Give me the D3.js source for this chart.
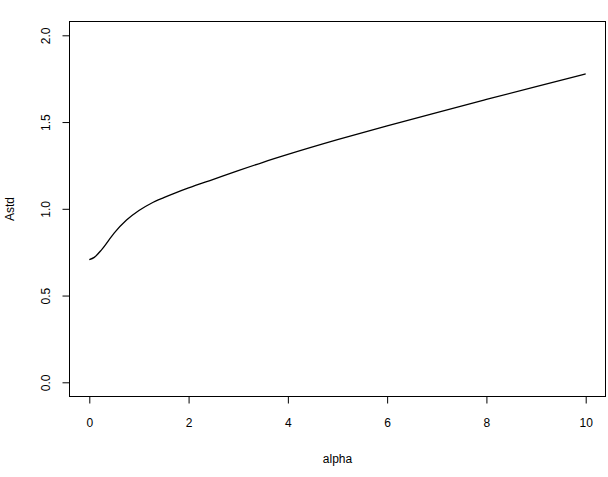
<!DOCTYPE html>
<html>
<head>
<meta charset="utf-8">
<script src="https://cdn.jsdelivr.net/npm/d3@7"></script>
<style>
  body { margin: 0; background: #fff; }
  svg { display: block; font-family: 'Liberation Sans', Arial, sans-serif; }
</style>
</head>
<body>
<div id="chart"></div>
<script>
// values
const alpha = [0, 0.1, 0.25, 0.5, 0.75, 1, 1.25, 1.5, 1.75, 2, 2.5, 3, 3.5, 4, 5, 6, 7, 8, 9, 10];
const astd = [0.707, 0.72, 0.765, 0.86, 0.935, 0.99, 1.032, 1.064, 1.093, 1.12, 1.17, 1.22, 1.268, 1.313, 1.398, 1.478, 1.555, 1.63, 1.704, 1.777];
const xTicks = [0, 2, 4, 6, 8, 10];
const yTicks = [0, 0.5, 1, 1.5, 2];

const width = 608;
const height = 477;
const box = { left: 69.5, right: 605.5, top: 21.5, bottom: 396.5 };

const x = d3.scaleLinear()
  .domain([0, 10])
  .range([89.3, 585.7]);

const y = d3.scaleLinear()
  .domain([0, 2])
  .range([382.3, 35.3]);

const svg = d3.select('#chart').append('svg')
  .attr('width', width)
  .attr('height', height)
  .style('font-size', '12px');

// plot frame
svg.append('rect')
  .attr('x', box.left)
  .attr('y', box.top)
  .attr('width', box.right - box.left)
  .attr('height', box.bottom - box.top)
  .attr('fill', 'none')
  .attr('stroke', '#000')
  .attr('stroke-width', 1);

// bottom axis
const xAxis = d3.axisBottom(x)
  .tickValues(xTicks)
  .tickSize(7)
  .tickPadding(15)
  .tickFormat(d3.format('d'));

svg.append('g')
  .attr('transform', `translate(0,${box.bottom})`)
  .call(xAxis)
  .call(g => g.select('.domain').remove())
  .call(g => g.selectAll('text').attr('font-size', 12).attr('font-family', null).attr('fill', '#000'));

// left axis, labels turned like in base R
const yAxis = d3.axisLeft(y)
  .tickValues(yTicks)
  .tickSize(7)
  .tickFormat(d3.format('.1f'));

svg.append('g')
  .attr('transform', `translate(${box.left},0)`)
  .call(yAxis)
  .call(g => g.select('.domain').remove())
  .call(g => g.selectAll('text')
    .attr('font-size', 12)
    .attr('font-family', null)
    .attr('fill', '#000')
    .attr('x', null)
    .attr('dy', null)
    .attr('text-anchor', 'middle')
    .attr('transform', 'translate(-19.5,0) rotate(-90)'));

svg.append('path')
  .datum(alpha.map((a, i) => [a, astd[i]]))
  .attr('fill', 'none')
  .attr('stroke', '#000')
  .attr('stroke-width', 1.3)
  .attr('d', d3.line()
    .x(d => x(d[0]))
    .y(d => y(d[1]))
    .curve(d3.curveMonotoneX));

svg.append('text')
  .attr('x', (box.left + box.right) / 2)
  .attr('y', 463)
  .attr('text-anchor', 'middle')
  .text('alpha');

svg.append('text')
  .attr('transform', `translate(13.5,${(box.top + box.bottom) / 2}) rotate(-90)`)
  .attr('text-anchor', 'middle')
  .text('Astd');
</script>
</body>
</html>
